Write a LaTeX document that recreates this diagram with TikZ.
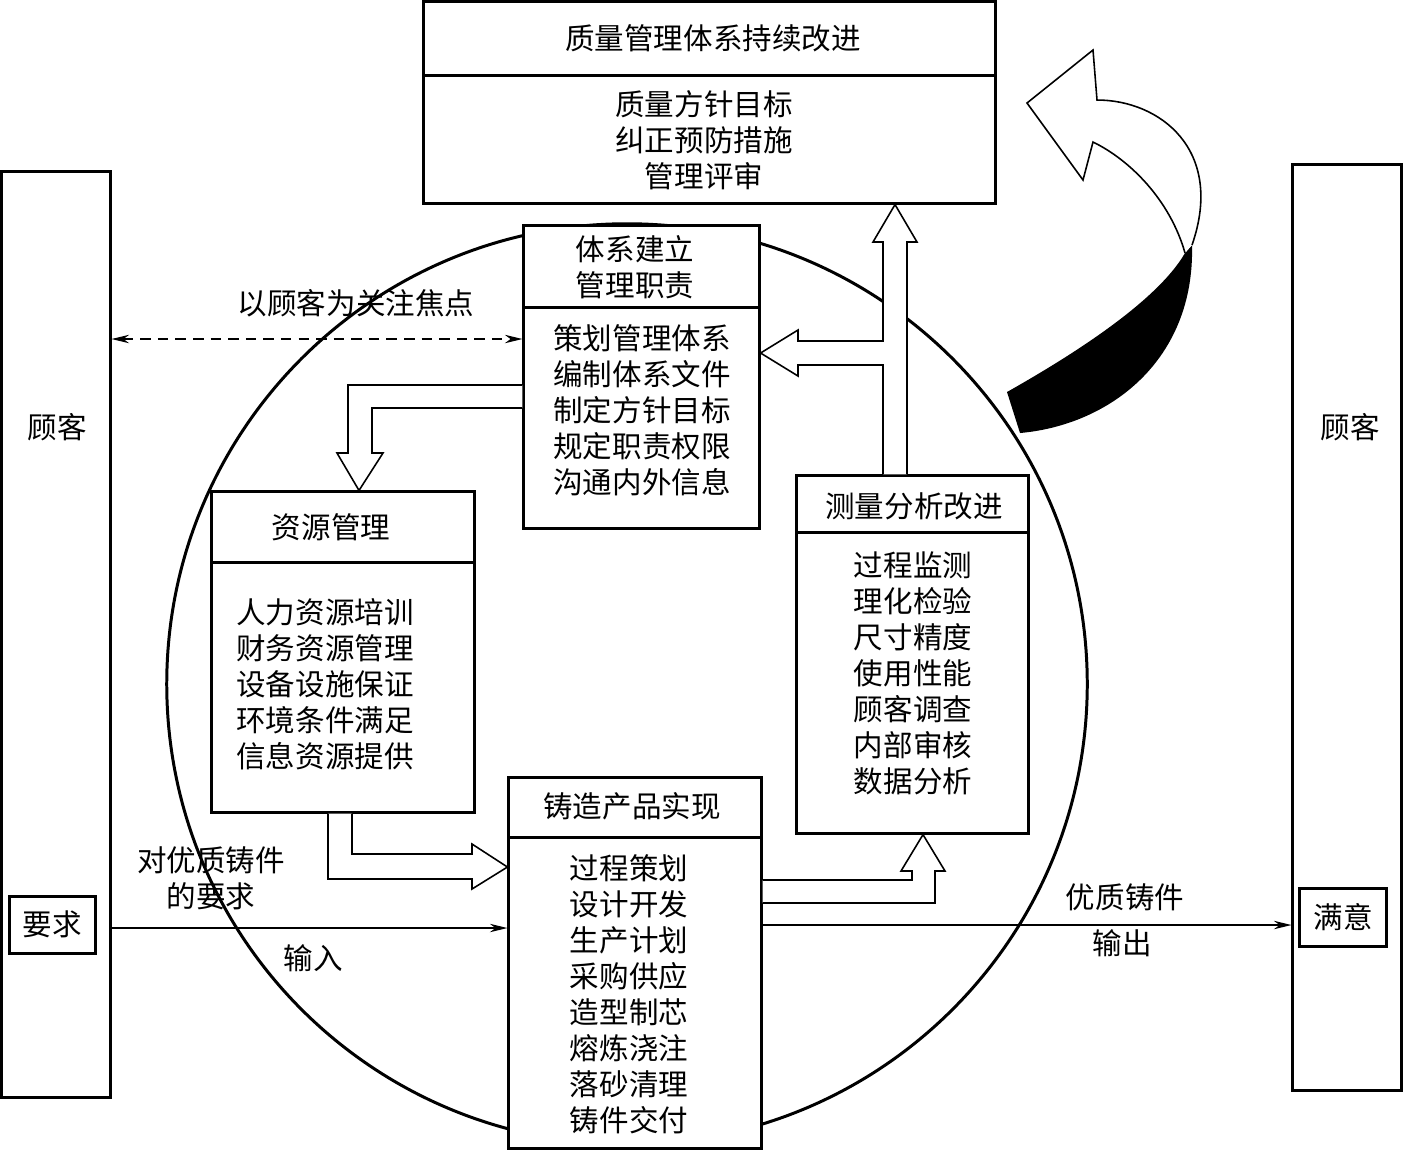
\documentclass[tikz,border=0pt]{standalone}
\usepackage{fontspec}
\newfontfamily\cjk{Noto Sans CJK SC}
\usepackage{tikz}
\usetikzlibrary{arrows.meta, calc}

\begin{document}
\begin{tikzpicture}[
  x=0.01cm, y=-0.01cm,
  box/.style={rectangle, draw, line width=0.85pt, fill=white, inner sep=0pt},
  txt/.style={align=center, inner sep=0pt, font=\cjk\fontsize{8.4pt}{10.25pt}\selectfont},
  hollow/.style={draw, line width=0.45pt, fill=white, line join=miter},
  thinarr/.style={line width=0.35pt, -{Stealth[length=5pt, width=2.4pt]}},
]
\useasboundingbox (0,0) rectangle (1403,1150);

% Big circle behind everything
\draw[line width=0.85pt] (627,684) circle (4.60cm);

% Customers at both sides
\node[box, minimum width=1.08cm, minimum height=9.25cm] (custL) at (56,634.5) {};
\node[box, minimum width=1.08cm, minimum height=9.25cm] (custR) at (1347,627.5) {};
\node[txt] (custLtxt) at (57,427) {顾客};
\node[txt] (custRtxt) at (1350,427) {顾客};
\node[box, minimum width=0.85cm, minimum height=0.57cm] (req) at (52.5,924.5) {};
\node[txt] at (req) {要求};
\node[box, minimum width=0.86cm, minimum height=0.58cm] (sat) at (1343,917) {};
\node[txt] at (sat) {满意};

% Top: continual improvement
\node[box, minimum width=5.71cm, minimum height=2.01cm] (top) at (709.5,102.5) {};
\draw[line width=0.85pt] (top.west |- 0,75) -- (top.east |- 0,75);
\node[txt] (toptitle) at (713,38) {质量管理体系持续改进};
\node[txt] (topbody) at (704,140) {质量方针目标\\纠正预防措施\\管理评审};

% Management responsibility
\node[box, minimum width=2.35cm, minimum height=3.02cm] (sys) at (641.5,377) {};
\draw[line width=0.85pt] (sys.west |- 0,307) -- (sys.east |- 0,307);
\node[txt] (systitle) at (635,267) {体系建立\\管理职责};
\node[txt] (sysbody) at (642,410) {策划管理体系\\编制体系文件\\制定方针目标\\规定职责权限\\沟通内外信息};

% Resource management
\node[box, minimum width=2.62cm, minimum height=3.20cm] (res) at (343,652) {};
\draw[line width=0.85pt] (res.west |- 0,562) -- (res.east |- 0,562);
\node[txt] (restitle) at (331,527) {资源管理};
\node[txt] (resbody) at (325,684) {人力资源培训\\财务资源管理\\设备设施保证\\环境条件满足\\信息资源提供};

% Measurement, analysis, improvement
\node[box, minimum width=2.31cm, minimum height=3.57cm] (meas) at (912.5,654.5) {};
\draw[line width=0.85pt] (meas.west |- 0,532) -- (meas.east |- 0,532);
\node[txt] (meastitle) at (914,506) {测量分析改进};
\node[txt] (measbody) at (913,673) {过程监测\\理化检验\\尺寸精度\\使用性能\\顾客调查\\内部审核\\数据分析};

% Product realization
\node[box, minimum width=2.52cm, minimum height=3.70cm] (prod) at (635,963) {};
\draw[line width=0.85pt] (prod.west |- 0,837) -- (prod.east |- 0,837);
\node[txt] (prodtitle) at (632,806) {铸造产品实现};
\node[txt] (prodbody) at (629,994.5) {过程策划\\设计开发\\生产计划\\采购供应\\造型制芯\\熔炼浇注\\落砂清理\\铸件交付};

% Hollow arrows between the boxes
\draw[hollow] (sys.west |- 0,385) -- (348,385) -- (348,453) -- (337,453) -- (359,0 |- res.north)
  -- (383,453) -- (372,453) -- (372,408) -- (sys.west |- 0,408);
\draw[hollow] (883,0 |- meas.north) -- (883,365) -- (798,365) -- (798,376) -- (sys.east |- 0,353)
  -- (798,330) -- (798,341) -- (883,341) -- (883,242) -- (873,242) -- (895,0 |- top.south)
  -- (917,242) -- (907,242) -- (907,0 |- meas.north);
\draw[hollow] (328,0 |- res.south) -- (328,879) -- (472,879) -- (472,889) -- (prod.west |- 0,867)
  -- (472,844) -- (472,854) -- (352,854) -- (352,0 |- res.south);
\draw[hollow] (prod.east |- 0,903) -- (935,903) -- (935,871) -- (945,871) -- (923,0 |- meas.south)
  -- (901,871) -- (912,871) -- (912,880) -- (prod.east |- 0,880);

% Customer focus, input and output
\draw[line width=0.35pt, dash pattern=on 3pt off 2pt, {Stealth[length=5pt, width=2.4pt]}-{Stealth[length=5pt, width=2.4pt]}]
  (custL.east |- 0,339) -- (sys.west |- 0,339);
\node[txt] (focus) at (356,303) {以顾客为关注焦点};
\draw[thinarr] (custL.east |- 0,928) -- (prod.west |- 0,928);
\node[txt] (inlbl) at (211,878) {对优质铸件\\的要求};
\node[txt] (inname) at (313,958) {输入};
\draw[thinarr] (prod.east |- 0,925) -- (custR.west |- 0,925);
\node[txt] (outlbl) at (1125,897) {优质铸件};
\node[txt] (outname) at (1122,943) {输出};

% Curved improvement arrow
\fill[black] (1185,253) .. controls (1155,305) and (1060,362) .. (1007,392)
  -- (1020,433) .. controls (1110,425) and (1195,360) .. (1192,245) -- cycle;
\draw[line width=0.45pt, fill=white] (1185,253) .. controls (1170,200) and (1130,160) .. (1093,142)
  -- (1083,180) -- (1027,103) -- (1093,50) -- (1097,100)
  .. controls (1160,100) and (1225,150) .. (1192,245);
\end{tikzpicture}
\end{document}
